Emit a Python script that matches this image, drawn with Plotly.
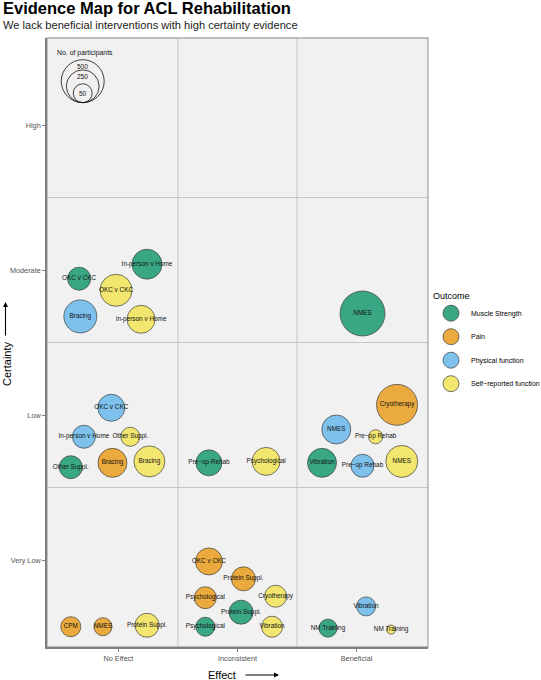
import numpy as np
import plotly.graph_objects as go

# categories
effect_levels = ["No Effect", "Inconsistent", "Beneficial"]
certainty_levels = ["Very Low", "Low", "Moderate", "High"]
outcome_levels = ["Muscle Strength", "Pain", "Physical function", "Self\u2212reported function"]
outcome_colors = ["#3aa784", "#eaaa3d", "#7ec1ec", "#f3e66f"]

# one row per review finding (category + jitter)
labels = [
    "OKC v CKC", "In-person v Home", "OKC v CKC", "Bracing", "In-person v Home", "NMES",
    "OKC v CKC", "In-person v Home", "Other Suppl.", "Other Suppl.", "Bracing", "Bracing",
    "Pre\u2212op Rehab", "Psychological", "Vibration", "NMES", "Pre\u2212op Rehab", "Pre\u2212op Rehab",
    "Cryotherapy", "NMES",
    "CPM", "NMES", "Protein Suppl.", "OKC v CKC", "Protein Suppl.", "Psychological",
    "Cryotherapy", "Protein Suppl.", "Psychological", "Vibration", "Vibration",
    "NM Training", "NM Training",
]
outcome = [0, 0, 3, 2, 3, 0,
           2, 2, 3, 0, 1, 3,
           0, 3, 0, 2, 3, 2,
           1, 3,
           1, 1, 3, 1, 1, 1,
           3, 0, 0, 3, 2,
           0, 3]
effect = [0, 0, 0, 0, 0, 2,
          0, 0, 0, 0, 0, 0,
          1, 1, 2, 2, 2, 2,
          2, 2,
          0, 0, 0, 1, 1, 1,
          1, 1, 1, 1, 2,
          2, 2]
certainty = [2, 2, 2, 2, 2, 2,
             1, 1, 1, 1, 1, 1,
             1, 1, 1, 1, 1, 1,
             1, 1,
             0, 0, 0, 0, 0, 0,
             0, 0, 0, 0, 0,
             0, 0]
jitter_x = [-0.33, 0.24, -0.02, -0.32, 0.19, 0.05,
            -0.06, -0.29, 0.10, -0.40, -0.05, 0.26,
            -0.24, 0.24, -0.29, -0.17, 0.16, 0.05,
            0.34, 0.38,
            -0.40, -0.13, 0.24, -0.24, 0.05, -0.27,
            0.32, 0.03, -0.27, 0.29, 0.08,
            -0.24, 0.29]
jitter_y = [-0.06, 0.04, -0.14, -0.32, -0.34, -0.30,
            0.05, -0.15, -0.15, -0.36, -0.33, -0.32,
            -0.33, -0.32, -0.33, -0.10, -0.15, -0.35,
            0.07, -0.32,
            -0.46, -0.46, -0.45, -0.01, -0.13, -0.26,
            -0.25, -0.36, -0.46, -0.46, -0.32,
            -0.47, -0.48]
participants = [92, 196, 234, 254, 162, 561,
                146, 92, 51, 92, 179, 215,
                131, 162, 179, 179, 19, 92,
                445, 234,
                60, 43, 104, 146, 104, 80,
                80, 104, 51, 70, 51,
                43, 8]

size_breaks = [500, 250, 50]

FONT = "Liberation Sans, Arial, sans-serif"


def diameter(n):
    # ggplot-like area scale: min size plus sqrt growth
    return 9 + 1.53 * np.sqrt(np.maximum(np.asarray(n, dtype=float) - 8, 0))


x = np.array(effect) + 1 + np.array(jitter_x)
y = np.array(certainty) + 1 + np.array(jitter_y)
sizes = diameter(participants)
outcome = np.array(outcome)

# plot area in pixels
W, H = 541, 680
L, R, T, B = 47, 113, 38, 33
pw, ph = W - L - R, H - T - B


def px(xp):
    return (xp - L) / pw


def py(yp):
    return (H - B - yp) / ph


fig = go.Figure()

for k, name in enumerate(outcome_levels):
    m = outcome == k
    fig.add_trace(go.Scatter(
        x=x[m], y=y[m], mode="markers", name=name, legendgroup=name,
        marker=dict(size=sizes[m], color=outcome_colors[k], opacity=1,
                    line=dict(color="#3d3d3d", width=0.7)),
        hoverinfo="skip",
    ))

fig.add_trace(go.Scatter(
    x=x, y=y, mode="text", text=labels, textposition="middle center",
    textfont=dict(family=FONT, size=6.4, color="#111111"),
    showlegend=False, hoverinfo="skip",
))

shapes = []
for v in [1.5, 2.5]:
    shapes.append(dict(type="line", xref="x", yref="paper", x0=v, x1=v, y0=0, y1=1,
                       line=dict(color="#c6c6c6", width=1), layer="below"))
for v in [1.5, 2.5, 3.5]:
    shapes.append(dict(type="line", xref="paper", yref="y", x0=0, x1=1, y0=v, y1=v,
                       line=dict(color="#c6c6c6", width=1), layer="below"))
shapes.append(dict(type="rect", xref="paper", yref="paper", x0=0, x1=1, y0=0, y1=1,
                   line=dict(color="#ababab", width=1.3), layer="below"))

# size key
key_x, key_y = 0.70, 4.154
annotations = [dict(x=0.47, y=4.50, xref="x", yref="y", text="No. of participants",
                    showarrow=False, xanchor="left", font=dict(family=FONT, size=6.9, color="#111"))]
for n in size_breaks:
    d = float(diameter(n))
    shapes.append(dict(type="circle", xref="x", yref="y", xsizemode="pixel", ysizemode="pixel",
                       xanchor=key_x, yanchor=key_y, x0=-d / 2, x1=d / 2, y0=0, y1=d,
                       line=dict(color="#111111", width=0.8)))
    shift = d / 2 if n == min(size_breaks) else d - 6.5
    annotations.append(dict(x=key_x, y=key_y, xref="x", yref="y", text=str(n), showarrow=False,
                            xanchor="center", yanchor="middle", yshift=shift,
                            font=dict(family=FONT, size=6.5, color="#111")))

# titles
annotations += [
    dict(x=px(1), y=py(8), xref="paper", yref="paper", text="<b>Evidence Map for ACL Rehabilitation</b>",
         showarrow=False, xanchor="left", yanchor="middle", font=dict(family=FONT, size=16.5, color="#000")),
    dict(x=px(1), y=py(25), xref="paper", yref="paper",
         text="We lack beneficial interventions with high certainty evidence",
         showarrow=False, xanchor="left", yanchor="middle", font=dict(family=FONT, size=11.1, color="#222")),
    dict(x=px(222), y=py(675), xref="paper", yref="paper", text="Effect", showarrow=False,
         xanchor="center", yanchor="middle", font=dict(family=FONT, size=11, color="#000")),
    dict(x=px(279), y=py(675), xref="paper", yref="paper", text="", showarrow=True,
         ax=-35, ay=0, arrowhead=2, arrowsize=0.9, arrowwidth=1.1, arrowcolor="#000"),
    dict(x=px(7), y=py(364), xref="paper", yref="paper", text="Certainty", showarrow=False,
         xanchor="center", yanchor="middle", textangle=-90,
         font=dict(family=FONT, size=11, color="#000")),
    dict(x=px(5.5), y=py(302), xref="paper", yref="paper", text="", showarrow=True,
         ax=0, ay=35, arrowhead=2, arrowsize=0.9, arrowwidth=1.1, arrowcolor="#000"),
]

fig.update_xaxes(range=[0.4, 3.6], tickvals=[1, 2, 3], ticktext=effect_levels,
                 showgrid=False, zeroline=False, showline=True, linecolor="#7f7f7f", linewidth=1.6,
                 ticks="outside", ticklen=3, tickcolor="#7f7f7f",
                 tickfont=dict(family=FONT, size=7.3, color="#555"))
fig.update_yaxes(range=[0.4, 4.6], tickvals=[1, 2, 3, 4], ticktext=certainty_levels,
                 showgrid=False, zeroline=False, showline=True, linecolor="#7f7f7f", linewidth=1.6,
                 ticks="outside", ticklen=3, tickcolor="#7f7f7f",
                 tickfont=dict(family=FONT, size=7.3, color="#555"))

fig.update_layout(
    width=W, height=H,
    margin=dict(l=L, r=R, t=T, b=B, autoexpand=False),
    plot_bgcolor="#f1f1f1", paper_bgcolor="white",
    shapes=shapes, annotations=annotations,
    legend=dict(x=px(431), y=py(287), xanchor="left", yanchor="top",
                title=dict(text="Outcome", font=dict(family=FONT, size=9, color="#000")),
                font=dict(family=FONT, size=7.0, color="#000"),
                itemsizing="trace", tracegroupgap=4.5, bgcolor="rgba(0,0,0,0)"),
    font=dict(family=FONT),
)

fig.write_html("out.html", config={"displayModeBar": False},
               post_script="document.body.style.margin='0';")
